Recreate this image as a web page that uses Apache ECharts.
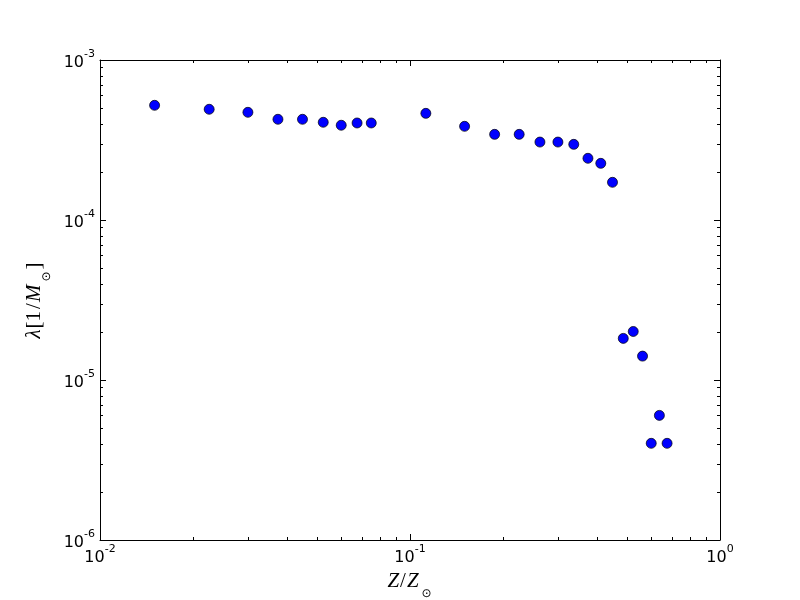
<!DOCTYPE html>
<html>
<head>
<meta charset="utf-8">
<script src="https://cdn.jsdelivr.net/npm/echarts@6/dist/echarts.min.js"></script>
<style>
  html, body { margin: 0; background: #fff; }
  #chart { width: 800px; height: 600px; }
</style>
</head>
<body>
<div id="chart"></div>
<script>
// metallicity Z/Zsun and rate lambda [1/Msun]
const metallicity = [0.015, 0.0225, 0.03, 0.0375, 0.045, 0.0525, 0.06, 0.0675, 0.075,
  0.1125, 0.15, 0.1875, 0.225, 0.2625, 0.3, 0.3375, 0.375, 0.4125, 0.45,
  0.4875, 0.525, 0.5625, 0.6, 0.6375, 0.675]
const lambda = [5.21e-4, 4.92e-4, 4.71e-4, 4.26e-4, 4.26e-4, 4.08e-4, 3.91e-4, 4.04e-4, 4.04e-4,
  4.64e-4, 3.85e-4, 3.43e-4, 3.43e-4, 3.07e-4, 3.07e-4, 2.97e-4, 2.43e-4, 2.26e-4, 1.72e-4,
  1.82e-5, 2.01e-5, 1.41e-5, 4.02e-6, 6.01e-6, 4.02e-6]
const xTicks = [0.01, 0.1, 1]
const yTicks = [1e-6, 1e-5, 1e-4, 1e-3]

const tickFont = 'DejaVu Sans'
const mathFont = 'Liberation Serif'

const powLabel = (v) => {
  const e = Math.round(Math.log10(v))
  return `{b|10}{s|${e}}`
}
const powRich = {
  b: { fontFamily: tickFont, fontSize: 16, color: '#000', lineHeight: 22, verticalAlign: 'bottom' },
  s: { fontFamily: tickFont, fontSize: 11, color: '#000', lineHeight: 11, verticalAlign: 'top' },
}

// mathtext-like pieces: italic symbols, upright brackets, low subscript
const mathRich = {
  i: { fontFamily: mathFont, fontStyle: 'italic', fontSize: 21, color: '#000', lineHeight: 36, verticalAlign: 'middle' },
  r: { fontFamily: mathFont, fontSize: 21, color: '#000', lineHeight: 36, verticalAlign: 'middle', padding: [0, 1, 0, 1] },
  sub: { fontFamily: 'DejaVu Sans', fontSize: 12, color: '#000', lineHeight: 13, verticalAlign: 'bottom', padding: [0, 1, 0, 3] },
}

const frameAxis = (extra) => Object.assign({
  type: 'log',
  logBase: 10,
  gridIndex: 0,
  axisLine: { show: true, onZero: false, lineStyle: { color: '#000', width: 1 } },
  axisTick: { show: true, inside: true, length: 6, lineStyle: { color: '#000' } },
  splitLine: { show: false },
  axisLabel: { show: false },
}, extra)

const chart = echarts.init(document.getElementById('chart'))
chart.setOption({
  animation: false,
  backgroundColor: '#fff',
  grid: { left: 100, right: 80, top: 60, bottom: 60, containLabel: false, outerBoundsMode: 'none' },
  xAxis: [
    frameAxis({
      min: xTicks[0], max: xTicks[xTicks.length - 1], position: 'bottom',
      axisLabel: { show: true, formatter: powLabel, rich: powRich, margin: 4 },
      name: '{i|Z}{r|/}{i|Z}{sub|⊙}',
      nameLocation: 'middle',
      nameGap: 22,
      nameTextStyle: { rich: mathRich },
    }),
    frameAxis({ min: xTicks[0], max: xTicks[xTicks.length - 1], position: 'top' }),
  ],
  yAxis: [
    frameAxis({
      min: yTicks[0], max: yTicks[yTicks.length - 1], position: 'left',
      axisLabel: { show: true, formatter: powLabel, rich: powRich, margin: 5 },
      name: '{i|λ}{r|[1}{r|/}{i|M}{sub|⊙}{r|]}',
      nameLocation: 'middle',
      nameGap: 46,
      nameTextStyle: { rich: mathRich },
    }),
    frameAxis({ min: yTicks[0], max: yTicks[yTicks.length - 1], position: 'right' }),
  ],
  series: [{
    type: 'scatter',
    xAxisIndex: 0,
    yAxisIndex: 0,
    symbol: 'circle',
    symbolSize: 10,
    itemStyle: { color: '#0000ff', borderColor: '#000', borderWidth: 0.7, opacity: 1 },
    data: metallicity.map((z, i) => [z, lambda[i]]),
  }],
})

// minor ticks (2..9 per decade), inside, on all four sides
function minorTicks(ticks) {
  const out = []
  for (let i = 0; i < ticks.length - 1; i++) {
    for (let k = 2; k <= 9; k++) out.push(ticks[i] * k)
  }
  return out
}
const x0 = Math.round(chart.convertToPixel({ xAxisIndex: 0 }, xTicks[0]))
const x1 = Math.round(chart.convertToPixel({ xAxisIndex: 0 }, xTicks[xTicks.length - 1]))
const y0 = Math.round(chart.convertToPixel({ yAxisIndex: 0 }, yTicks[0]))
const y1 = Math.round(chart.convertToPixel({ yAxisIndex: 0 }, yTicks[yTicks.length - 1]))
const len = 3
const lines = []
const seg = (ax, ay, bx, by) => lines.push({
  type: 'line', silent: true,
  shape: { x1: ax, y1: ay, x2: bx, y2: by },
  style: { stroke: '#000', lineWidth: 1 },
})
minorTicks(xTicks).forEach((v) => {
  const px = Math.round(chart.convertToPixel({ xAxisIndex: 0 }, v)) + 0.5
  seg(px, y0, px, y0 - len)
  seg(px, y1, px, y1 + len)
})
minorTicks(yTicks).forEach((v) => {
  const py = Math.round(chart.convertToPixel({ yAxisIndex: 0 }, v)) + 0.5
  seg(x0, py, x0 + len, py)
  seg(x1, py, x1 - len, py)
})
chart.setOption({ graphic: lines })
</script>
</body>
</html>
